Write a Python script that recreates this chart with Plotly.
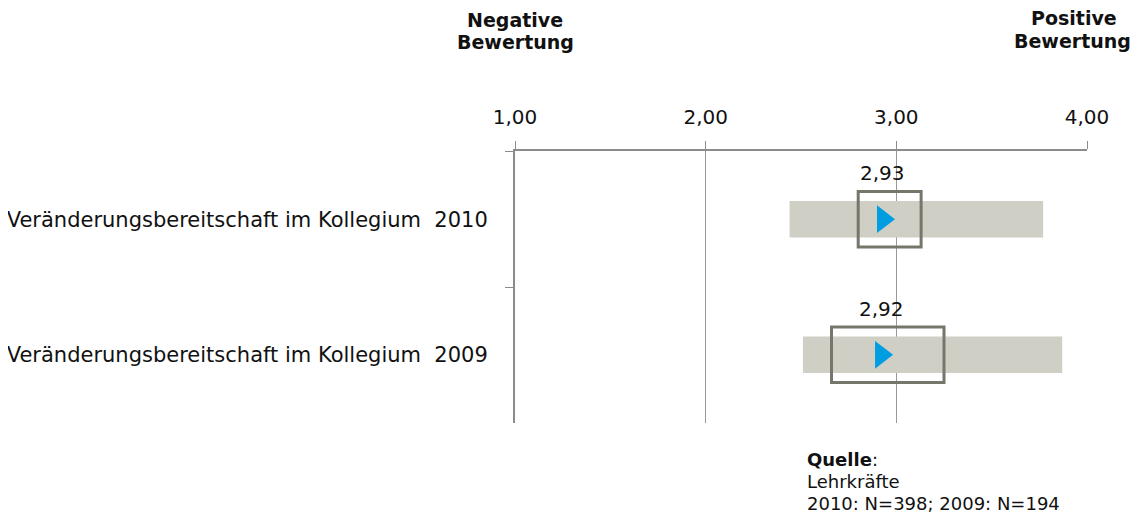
import plotly.graph_objects as go

categories = ["Veränderungsbereitschaft im Kollegium\u00a0 2010",
              "Veränderungsbereitschaft im Kollegium\u00a0 2009"]
means = [2.93, 2.92]
range_low = [2.44, 2.51]
range_high = [3.77, 3.87]
ci_low = [2.80, 2.66]
ci_high = [3.13, 3.25]
mean_labels = ["2,93", "2,92"]
x_ticks = [1, 2, 3, 4]
source_lines = ["<b>Quelle</b>:", "Lehrkräfte", "2010: N=398; 2009: N=194"]

FONT = "DejaVu Sans"
AXIS = "#8c8c8c"
TXT = "#111111"

fig = go.Figure()

fig.add_trace(go.Bar(
    y=categories, x=[h - l for h, l in zip(range_high, range_low)], base=range_low,
    orientation="h", width=0.27, marker=dict(color="#cfcfc6", line=dict(width=0)),
    hoverinfo="skip", showlegend=False))

fig.add_trace(go.Bar(
    y=categories, x=[h - l for h, l in zip(ci_high, ci_low)], base=ci_low,
    orientation="h", width=0.41,
    marker=dict(color="rgba(0,0,0,0)", line=dict(color="#76766a", width=3)),
    hoverinfo="skip", showlegend=False))

fig.add_trace(go.Scatter(
    y=categories, x=means, mode="markers",
    marker=dict(symbol="triangle-right", size=24, color="#009ee0", line=dict(width=0)),
    showlegend=False))

for c, m, t in zip(categories, means, mean_labels):
    fig.add_annotation(x=m, y=c, text=t, showarrow=False, yshift=46,
                       font=dict(family=FONT, size=20, color=TXT))

for txt, xs, ys in [("Negative", 0, 131), ("Bewertung", 0, 109)]:
    fig.add_annotation(xref="paper", yref="paper", x=0, y=1, xanchor="center", yanchor="middle",
                       xshift=xs, yshift=ys, text="<b>%s</b>" % txt, showarrow=False,
                       font=dict(family=FONT, size=19, color=TXT))
for txt, xs, ys in [("Positive", -13, 133), ("Bewertung", -15, 110)]:
    fig.add_annotation(xref="paper", yref="paper", x=1, y=1, xanchor="center", yanchor="middle",
                       xshift=xs, yshift=ys, text="<b>%s</b>" % txt, showarrow=False,
                       font=dict(family=FONT, size=19, color=TXT))

for txt, ys in zip(source_lines, [-36, -58, -80]):
    fig.add_annotation(xref="paper", yref="paper", x=0.5087, y=0, xanchor="left", yanchor="middle",
                       yshift=ys, text=txt, showarrow=False, align="left", borderpad=0,
                       font=dict(family=FONT, size=18, color=TXT))

fig.update_layout(
    width=1132, height=509,
    margin=dict(l=507, r=53, t=143, b=94),
    paper_bgcolor="white", plot_bgcolor="white",
    barmode="overlay", separators=",.",
    font=dict(family=FONT, size=20, color=TXT),
    xaxis=dict(side="top", range=[1, 4], tickvals=x_ticks, tickformat=".2f",
               showgrid=True, gridcolor="#999999", gridwidth=1, zeroline=False,
               showline=True, linecolor=AXIS, linewidth=2,
               ticks="outside", ticklen=8, tickcolor=AXIS, tickwidth=1,
               ticklabelstandoff=9, automargin=False,
               tickfont=dict(family=FONT, size=20, color=TXT)),
    yaxis=dict(categoryorder="array", categoryarray=categories, range=[1.503, -0.503],
               showline=True, linecolor=AXIS, linewidth=2, showgrid=False,
               ticks="outside", ticklen=8, tickcolor=AXIS, tickwidth=1,
               tickson="boundaries", ticklabelstandoff=21, automargin=False,
               tickfont=dict(family=FONT, size=21, color=TXT)),
)

fig.write_html("out.html")
